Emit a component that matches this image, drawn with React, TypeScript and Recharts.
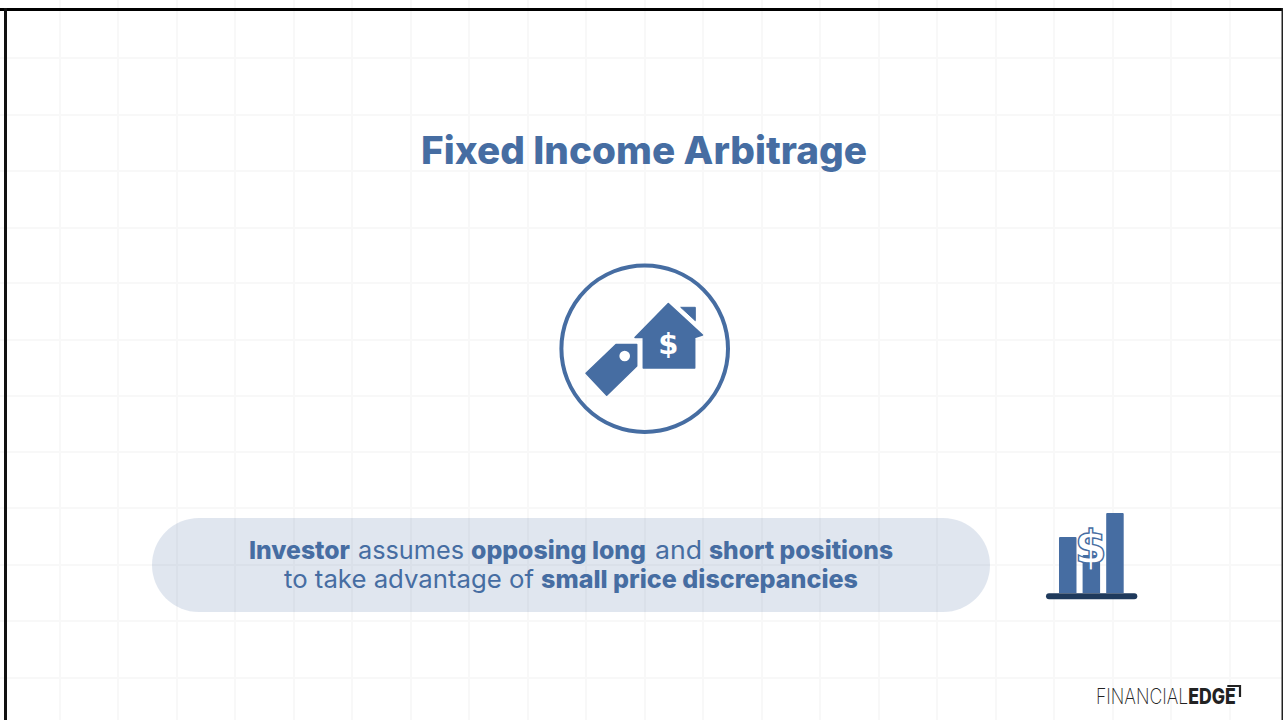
import { BarChart, Bar, XAxis, YAxis, CartesianGrid, ComposedChart } from 'recharts'

const gridX = [60, 118, 177, 235, 294, 352, 411, 469, 528, 586, 645, 703, 762, 820, 879, 937, 996, 1054, 1113, 1171, 1230]
const gridY = [58, 115, 171, 228, 283, 340, 396, 452, 508, 565, 621, 678]

const iconCategories = ['a', 'b', 'c']
const iconValues = [56, 38, 80]
const iconData = iconCategories.map((name, i) => ({ name, value: iconValues[i] }))

const BLUE = '#466da2'
const FONT = 'Inter, "Open Sans", sans-serif'

const line1 = [
  { text: 'Investor', x: 249, w: 101, bold: true },
  { text: 'assumes', x: 358, w: 106, bold: false },
  { text: 'opposing long', x: 471, w: 175, bold: true },
  { text: 'and', x: 655, w: 47, bold: false },
  { text: 'short positions', x: 709, w: 184, bold: true },
]
const line2 = [
  { text: 'to take advantage of', x: 284, w: 250, bold: false },
  { text: 'small price discrepancies', x: 541, w: 317, bold: true },
]

const layer: React.CSSProperties = { position: 'absolute', left: 0, top: 0 }

function Segments({ items, y }: { items: typeof line1; y: number }) {
  return (
    <>
      {items.map(s => (
        <text
          key={s.text}
          x={s.x}
          y={y}
          textLength={s.w}
          lengthAdjust="spacingAndGlyphs"
          fontFamily={FONT}
          fontSize={25}
          fontWeight={s.bold ? 800 : 400}
          fill={BLUE}
        >
          {s.text}
        </text>
      ))}
    </>
  )
}

export default function App() {
  return (
    <div style={{ position: 'absolute', left: 0, top: 0, width: 1283, height: 720, background: '#fff', overflow: 'hidden' }}>
      <div style={layer}>
        <ComposedChart width={1283} height={720} data={iconData} margin={{ top: 0, right: 0, bottom: 0, left: 0 }}>
          <XAxis type="number" dataKey="value" domain={[0, 1283]} hide />
          <YAxis type="number" domain={[0, 720]} hide />
          <CartesianGrid verticalPoints={gridX} horizontalPoints={gridY} stroke="#f8f8f8" strokeWidth={2} />
        </ComposedChart>
      </div>

      <svg width={1283} height={720} style={layer}>
        {/* frame */}
        <rect x={0} y={8} width={1283} height={3} fill="#000" />
        <rect x={4} y={8} width={3} height={712} fill="#111" />
        <rect x={1281.5} y={8} width={1.5} height={712} fill="#222" />

        <text
          x={421}
          y={164}
          textLength={446}
          lengthAdjust="spacingAndGlyphs"
          fontFamily={FONT}
          fontSize={38}
          fontWeight={800}
          fill={BLUE}
        >
          Fixed Income Arbitrage
        </text>

        {/* house and tag */}
        <circle cx={644.7} cy={348.7} r={83.3} fill="none" stroke={BLUE} strokeWidth={4} />
        <path
          d="M668.3 303.5 L702.5 335 L694.7 337.5 L694.7 368 L643.3 368 L643.3 337.5 L635 337.5 Z"
          fill={BLUE}
          stroke={BLUE}
          strokeWidth={1.5}
          strokeLinejoin="round"
        />
        <path d="M680.7 307.3 L695.3 307.3 L695.3 320.7 Z" fill={BLUE} stroke={BLUE} strokeLinejoin="round" />
        <text x={668.3} y={354} textAnchor="middle" fontFamily="DejaVu Sans" fontSize={29} fontWeight={700} fill="#fff">
          $
        </text>
        <path
          d="M636.7 344.5 L616 344.5 L586 373.3 L606.7 395.3 L636.7 366 Z"
          fill={BLUE}
          stroke={BLUE}
          strokeWidth={1.5}
          strokeLinejoin="round"
        />
        <circle cx={624.7} cy={356} r={5.3} fill="#fff" />

        {/* pill */}
        <rect x={152} y={518} width={838} height={94} rx={47} fill={BLUE} fillOpacity={0.17} />
        <Segments items={line1} y={559} />
        <Segments items={line2} y={588} />

        {/* logo */}
        <text transform="translate(1096 704) scale(0.84 1)" fontFamily={FONT} fontSize={21} fill="#222">
          <tspan fontWeight={200}>FINANCIAL</tspan>
          <tspan fontWeight={800}>EDGE</tspan>
        </text>
        <path d="M1227.3 686 L1240 686 L1240 697" fill="none" stroke="#222" strokeWidth={2.2} />
      </svg>

      <div style={{ position: 'absolute', left: 1055.9, top: 513 }}>
        <BarChart width={70.8} height={80} data={iconData} margin={{ top: 0, right: 0, bottom: 0, left: 0 }}>
          <XAxis dataKey="name" hide />
          <YAxis domain={[0, 80]} hide />
          <Bar dataKey="value" fill={BLUE} barSize={17.5} radius={[1, 1, 0, 0]} isAnimationActive={false} />
        </BarChart>
      </div>

      <svg width={1283} height={720} style={layer}>
        <rect x={1046} y={593.3} width={91.3} height={6} rx={3} fill="#1f3a5c" />
        <text
          x={1090.7}
          y={563}
          textAnchor="middle"
          fontFamily="DejaVu Sans"
          fontSize={46}
          fontWeight={700}
          fill="#fff"
          stroke={BLUE}
          strokeWidth={1.4}
        >
          $
        </text>
      </svg>
    </div>
  )
}
